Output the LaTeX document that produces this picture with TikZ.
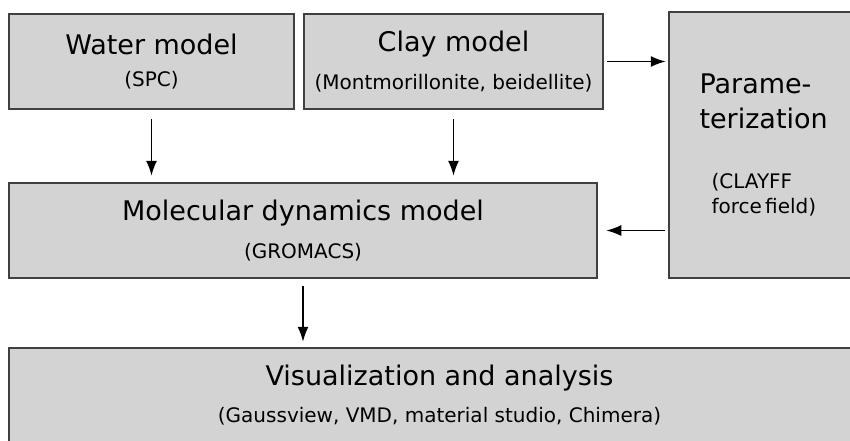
\documentclass[tikz,border=0pt]{standalone}
\usepackage{fontspec}
\setmainfont{DejaVu Sans}
\usetikzlibrary{shapes,arrows.meta}
\definecolor{boxgray}{HTML}{D3D3D3}
\definecolor{edgegray}{HTML}{404040}
\newcommand{\bigtxt}{\fontsize{27}{35}\selectfont}
\newcommand{\smalltxt}{\fontsize{20}{27}\selectfont}

\begin{document}
\begin{tikzpicture}[x=1pt, y=-1pt,
  box/.style={draw=edgegray, line width=2.5pt, fill=boxgray, align=center, inner sep=0pt},
  arr/.style={-{Latex[length=15pt,width=11pt]}, line width=1.5pt}]
  % Page frame
  \clip (0,0) rectangle (850,440);

  % Draw boxes
  \node[box, minimum width=285, minimum height=95] (water) at (151.5,61.5)
    {\bigtxt Water model\\[16pt]\smalltxt (SPC)};
  \node[box, minimum width=299, minimum height=95] (clay) at (453.5,61.5)
    {\bigtxt Clay model\\[16pt]\smalltxt (Montmorillonite, beidellite)};
  \node[box, minimum width=201, minimum height=266, text width=140pt, align=left] (param) at (769.5,145)
    {\bigtxt Parame-\\[0pt]terization\\[33pt]\smalltxt\hspace*{12pt}(CLAYFF\\[6pt]\hspace*{12pt}force field)};
  \node[box, minimum width=588, minimum height=95] (mol) at (303,230.5)
    {\bigtxt Molecular dynamics model\\[16pt]\smalltxt (GROMACS)};
  \node[box, minimum width=861, minimum height=94] (vis) at (439.5,395)
    {\bigtxt Visualization and analysis\\[16pt]\smalltxt (Gaussview, VMD, material studio, Chimera)};

  % Draw arrows
  \draw[arr, shorten <=9pt, shorten >=6pt] (water.south) -- (water.south |- mol.north);
  \draw[arr, shorten <=9pt, shorten >=6pt] (clay.south) -- (clay.south |- mol.north);
  \draw[arr, shorten <=3pt, shorten >=2pt] (clay.east) -- (clay.east -| param.west);
  \draw[arr, shorten <=3pt, shorten >=8pt] (param.west |- mol.east) -- (mol.east);
  \draw[arr, shorten <=7pt, shorten >=5pt] (mol.south) -- (mol.south |- vis.north);
\end{tikzpicture}
\end{document}
